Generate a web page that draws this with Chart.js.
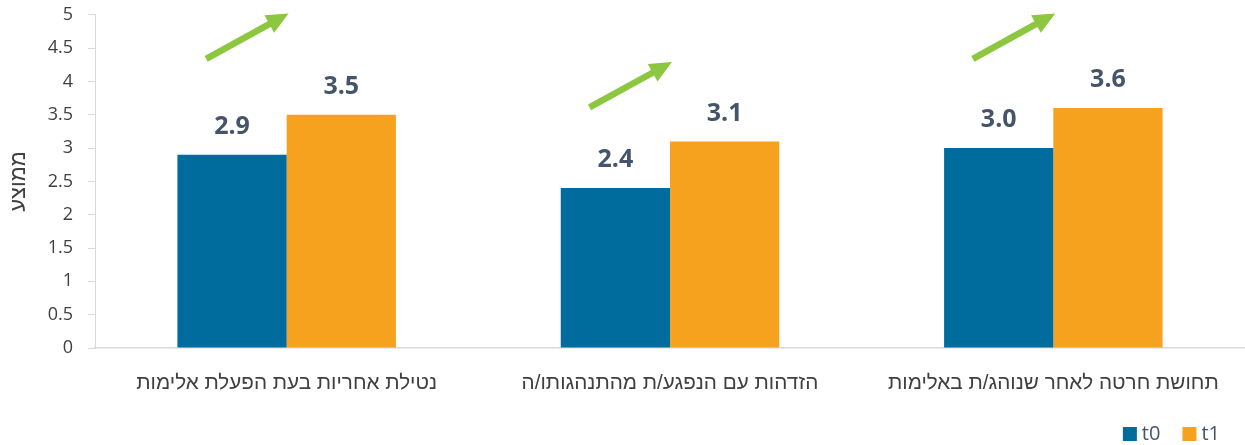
<!DOCTYPE html>
<html lang="he">
<head>
  <meta charset="UTF-8" />
  <title>ממוצע t0 / t1</title>
  <style>
    html, body { margin: 0; padding: 0; background: #fff; }
    #wrap { width: 1245px; height: 445px; }
  </style>
</head>
<body>
  <div id="wrap"><canvas id="chart" width="1245" height="445"></canvas></div>

  <script src="https://cdn.jsdelivr.net/npm/chart.js"></script>
  <script>
    const categories = [
      'נטילת אחריות בעת הפעלת אלימות',
      'הזדהות עם הנפגע/ת מהתנהגותו/ה',
      'תחושת חרטה לאחר שנוהג/ת באלימות'
    ];
    const t0Values = [2.9, 2.4, 3.0];
    const t1Values = [3.5, 3.1, 3.6];
    const yTicks = [0, 0.5, 1, 1.5, 2, 2.5, 3, 3.5, 4, 4.5, 5];
    // arrow annotations: value at tail and tip for each group
    const arrowTail = [4.34, 3.61, 4.34];
    const arrowTip = [5.02, 4.29, 5.02];

    const textColor = '#44546A';
    const font = "'Open Sans', 'Noto Sans', sans-serif";
    const hebFont = "'Liberation Sans', Arial, sans-serif";

    // value labels above bars
    const barLabels = {
      id: 'barLabels',
      afterDatasetsDraw(chart) {
        const ctx = chart.ctx;
        ctx.save();
        ctx.font = 'bold 25px ' + font;
        ctx.fillStyle = textColor;
        ctx.textAlign = 'center';
        ctx.textBaseline = 'middle';
        chart.data.datasets.forEach((ds, i) => {
          chart.getDatasetMeta(i).data.forEach((bar, j) => {
            ctx.fillText(ds.data[j].toFixed(1), bar.x, bar.y - 28);
          });
        });
        ctx.restore();
      }
    };

    // green trend arrows
    const trendArrows = {
      id: 'trendArrows',
      afterDatasetsDraw(chart) {
        const ctx = chart.ctx;
        const x = chart.scales.x, y = chart.scales.y;
        const catW = x.getPixelForValue(1) - x.getPixelForValue(0);
        ctx.save();
        ctx.strokeStyle = '#8DC63F';
        ctx.fillStyle = '#8DC63F';
        ctx.lineWidth = 6.5;
        categories.forEach((c, i) => {
          const cx = x.getPixelForValue(i);
          const x1 = cx - catW * 0.21, y1 = y.getPixelForValue(arrowTail[i]);
          const x2 = cx + catW * 0.005, y2 = y.getPixelForValue(arrowTip[i]);
          const ang = Math.atan2(y2 - y1, x2 - x1);
          const headLen = 22, headW = 10;
          const bx = x2 - headLen * Math.cos(ang), by = y2 - headLen * Math.sin(ang);
          ctx.beginPath();
          ctx.moveTo(x1, y1);
          ctx.lineTo(bx + 2 * Math.cos(ang), by + 2 * Math.sin(ang));
          ctx.stroke();
          ctx.beginPath();
          ctx.moveTo(x2, y2);
          ctx.lineTo(bx + headW * Math.sin(ang), by - headW * Math.cos(ang));
          ctx.lineTo(bx - headW * Math.sin(ang), by + headW * Math.cos(ang));
          ctx.closePath();
          ctx.fill();
        });
        ctx.restore();
      }
    };

    // legend in the bottom right corner, like the excel original
    const cornerLegend = {
      id: 'cornerLegend',
      afterDraw(chart) {
        const ctx = chart.ctx;
        const items = chart.data.datasets;
        ctx.save();
        ctx.font = '20px ' + font;
        ctx.textBaseline = 'middle';
        let xPos = chart.width - 25;
        const yPos = 434;
        // lay out right-to-left starting from the last item
        for (let i = items.length - 1; i >= 0; i--) {
          const w = ctx.measureText(items[i].label).width;
          xPos -= w;
          ctx.fillStyle = textColor;
          ctx.fillText(items[i].label, xPos, yPos);
          xPos -= 19;
          ctx.fillStyle = items[i].backgroundColor;
          ctx.fillRect(xPos, yPos - 7, 14, 14);
          xPos -= 22;
        }
        ctx.restore();
      }
    };

    new Chart(document.getElementById('chart'), {
      type: 'bar',
      data: {
        labels: categories,
        datasets: [
          { label: 't0', data: t0Values, backgroundColor: '#006C9E' },
          { label: 't1', data: t1Values, backgroundColor: '#F7A21E' }
        ]
      },
      options: {
        responsive: false,
        animation: false,
        layout: { padding: { top: 14, right: 0, left: 0, bottom: 0 } },
        datasets: { bar: { barPercentage: 1, categoryPercentage: 0.57 } },
        plugins: {
          legend: { display: false },
          tooltip: { enabled: false }
        },
        scales: {
          x: {
            grid: { display: false },
            border: { display: true, color: '#D9D9D9', width: 1.5 },
            ticks: { color: '#404040', font: { family: hebFont, size: 20.7 }, padding: 15, maxRotation: 0 },
            afterFit(s) { s.height = 97; }
          },
          y: {
            min: 0,
            max: 5,
            afterBuildTicks(s) { s.ticks = yTicks.map(v => ({ value: v })); },
            grid: {
              display: true,
              drawOnChartArea: false,
              tickLength: 18,
              tickBorderDash: [0, 11, 7],
              color: '#D9D9D9'
            },
            border: { display: true, color: '#D9D9D9', width: 1 },
            ticks: {
              color: '#404040',
              font: { family: font, size: 18 },
              padding: 4,
              callback: v => String(v)
            },
            title: {
              display: true,
              text: 'ממוצע',
              color: '#404040',
              font: { family: hebFont, size: 22 },
              padding: 6
            },
            afterFit(s) { s.width = 95; }
          }
        }
      },
      plugins: [barLabels, trendArrows, cornerLegend]
    });
  </script>
</body>
</html>
